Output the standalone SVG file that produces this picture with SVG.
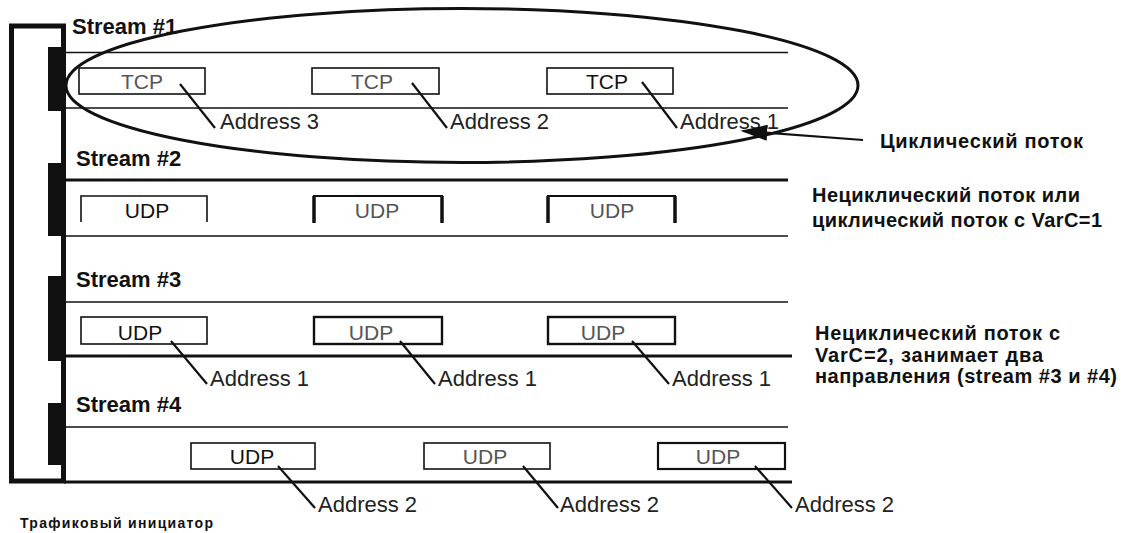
<svg xmlns="http://www.w3.org/2000/svg" width="1125" height="533" viewBox="0 0 1125 533">
<style>
.st{font-family:"Liberation Sans",Arial,sans-serif;font-weight:bold;font-size:22px;fill:#111}
.pk{font-family:"Liberation Sans",Arial,sans-serif;font-size:21px;fill:#555}
.pkb{font-family:"Liberation Sans",Arial,sans-serif;font-size:21px;fill:#111}
.ad{font-family:"Liberation Sans",Arial,sans-serif;font-size:22px;fill:#222}
.ru{font-family:"Liberation Sans",Arial,sans-serif;font-weight:bold;font-size:20px;fill:#111}
.sm{font-family:"Liberation Sans",Arial,sans-serif;font-weight:bold;font-size:14px;fill:#111}
.box{fill:none;stroke:#111;stroke-width:1.6}
.thin{stroke:#111;stroke-width:1.6}
.thick{stroke:#111;stroke-width:3}
.ptr{stroke:#111;stroke-width:2.2;fill:none}
</style>
<defs>
<marker id="ah" viewBox="0 0 10 10" refX="9" refY="5" markerWidth="27" markerHeight="16" markerUnits="userSpaceOnUse" orient="auto" preserveAspectRatio="none">
<path d="M0,0 L10,5 L0,10 Z" fill="#111"/>
</marker>
</defs>
<rect width="1125" height="533" fill="#fff"/>

<g id="initiator">
<rect x="11.5" y="26" width="52" height="455" fill="none" stroke="#111" stroke-width="5"/>
<rect x="48" y="47" width="16" height="64" fill="#111"/>
<rect x="48" y="163" width="16" height="73" fill="#111"/>
<rect x="48" y="276" width="16" height="85" fill="#111"/>
<rect x="48" y="403" width="16" height="62" fill="#111"/>
<text class="sm" x="20" y="528" textLength="193">Трафиковый инициатор</text>
</g>

<g id="stream1">
<text class="st" x="72" y="34">Stream #1</text>
<line class="thin" x1="64" y1="52.5" x2="788" y2="52.5"/>
<line class="thin" x1="64" y1="108" x2="788" y2="108"/>
<rect class="box" x="79" y="68" width="126" height="26"/>
<text class="pk" x="142" y="89" text-anchor="middle">TCP</text>
<rect class="box" x="312" y="68" width="127" height="26"/>
<text class="pk" x="372" y="89" text-anchor="middle">TCP</text>
<rect class="box" x="547" y="68" width="126" height="26"/>
<text class="pkb" x="607" y="89" text-anchor="middle">TCP</text>
</g>

<g id="stream2">
<text class="st" x="76" y="166">Stream #2</text>
<line class="thick" x1="64" y1="180" x2="788" y2="180"/>
<line class="thin" x1="64" y1="236" x2="788" y2="236"/>
<path class="box" d="M81,222 V196 H207 V222"/>
<path d="M314,222 V196 H442 V222" fill="none" stroke="#111" stroke-width="2"/>
<line x1="314" y1="196" x2="314" y2="223" stroke="#111" stroke-width="3.5"/>
<line x1="442" y1="196" x2="442" y2="223" stroke="#111" stroke-width="3.5"/>
<path d="M548,222 V196 H675 V222" fill="none" stroke="#111" stroke-width="2"/>
<line x1="548" y1="196" x2="548" y2="223" stroke="#111" stroke-width="3.5"/>
<line x1="675" y1="196" x2="675" y2="223" stroke="#111" stroke-width="3.5"/>
<text class="pkb" x="147" y="218" text-anchor="middle">UDP</text>
<text class="pk" x="377" y="218" text-anchor="middle">UDP</text>
<text class="pk" x="612" y="218" text-anchor="middle">UDP</text>
</g>

<g id="stream3">
<text class="st" x="76" y="287">Stream #3</text>
<line class="thin" x1="64" y1="302" x2="788" y2="302"/>
<line class="thick" x1="64" y1="356" x2="792" y2="356"/>
<rect class="box" x="81" y="317" width="126" height="27"/>
<rect x="314" y="317" width="128" height="27" fill="none" stroke="#111" stroke-width="2.4"/>
<rect x="548" y="317" width="127" height="27" fill="none" stroke="#111" stroke-width="2.4"/>
<text class="pkb" x="140" y="340" text-anchor="middle">UDP</text>
<text class="pk" x="371" y="340" text-anchor="middle">UDP</text>
<text class="pk" x="603" y="340" text-anchor="middle">UDP</text>
</g>

<g id="stream4">
<text class="st" x="76" y="412">Stream #4</text>
<line class="thin" x1="64" y1="427" x2="788" y2="427"/>
<line class="thick" x1="64" y1="482" x2="792" y2="482"/>
<rect class="box" x="191" y="443" width="124" height="26"/>
<rect class="box" x="424" y="443" width="126" height="26"/>
<rect x="658" y="443" width="127" height="26" fill="none" stroke="#111" stroke-width="2.2"/>
<text class="pkb" x="252" y="464" text-anchor="middle">UDP</text>
<text class="pk" x="485" y="464" text-anchor="middle">UDP</text>
<text class="pk" x="718" y="464" text-anchor="middle">UDP</text>
</g>

<g id="addresses">
<text class="ad" x="220" y="129">Address 3</text>
<text class="ad" x="450" y="129">Address 2</text>
<text class="ad" x="680" y="129">Address 1</text>
<text class="ad" x="210" y="386">Address 1</text>
<text class="ad" x="438" y="386">Address 1</text>
<text class="ad" x="672" y="386">Address 1</text>
<text class="ad" x="318" y="512">Address 2</text>
<text class="ad" x="560" y="512">Address 2</text>
<text class="ad" x="795" y="512">Address 2</text>
</g>

<g id="labels">
<text class="ru" x="880" y="148" textLength="203">Циклический поток</text>
<text class="ru" x="812" y="202" textLength="268">Нециклический поток или</text>
<text class="ru" x="812" y="227" textLength="290">циклический поток с VarC=1</text>
<text class="ru" x="815" y="340" textLength="245">Нециклический поток с</text>
<text class="ru" x="815" y="362" textLength="228">VarC=2, занимает два</text>
<text class="ru" x="815" y="383" textLength="302">направления (stream #3 и #4)</text>
</g>

<g id="connectors">
<ellipse cx="462" cy="85.5" rx="396" ry="77" fill="none" stroke="#111" stroke-width="3"/>
<line class="ptr" x1="863" y1="140" x2="743" y2="131" marker-end="url(#ah)"/>
<line class="ptr" x1="180" y1="84" x2="215" y2="128"/>
<line class="ptr" x1="412" y1="83" x2="447" y2="128"/>
<line class="ptr" x1="642" y1="82" x2="677" y2="128"/>
<line class="ptr" x1="171" y1="341" x2="207" y2="384"/>
<line class="ptr" x1="400" y1="341" x2="435" y2="384"/>
<line class="ptr" x1="632" y1="341" x2="669" y2="384"/>
<line class="ptr" x1="278" y1="466" x2="315" y2="508"/>
<line class="ptr" x1="523" y1="466" x2="558" y2="508"/>
<line class="ptr" x1="755" y1="466" x2="792" y2="508"/>
</g>
</svg>
